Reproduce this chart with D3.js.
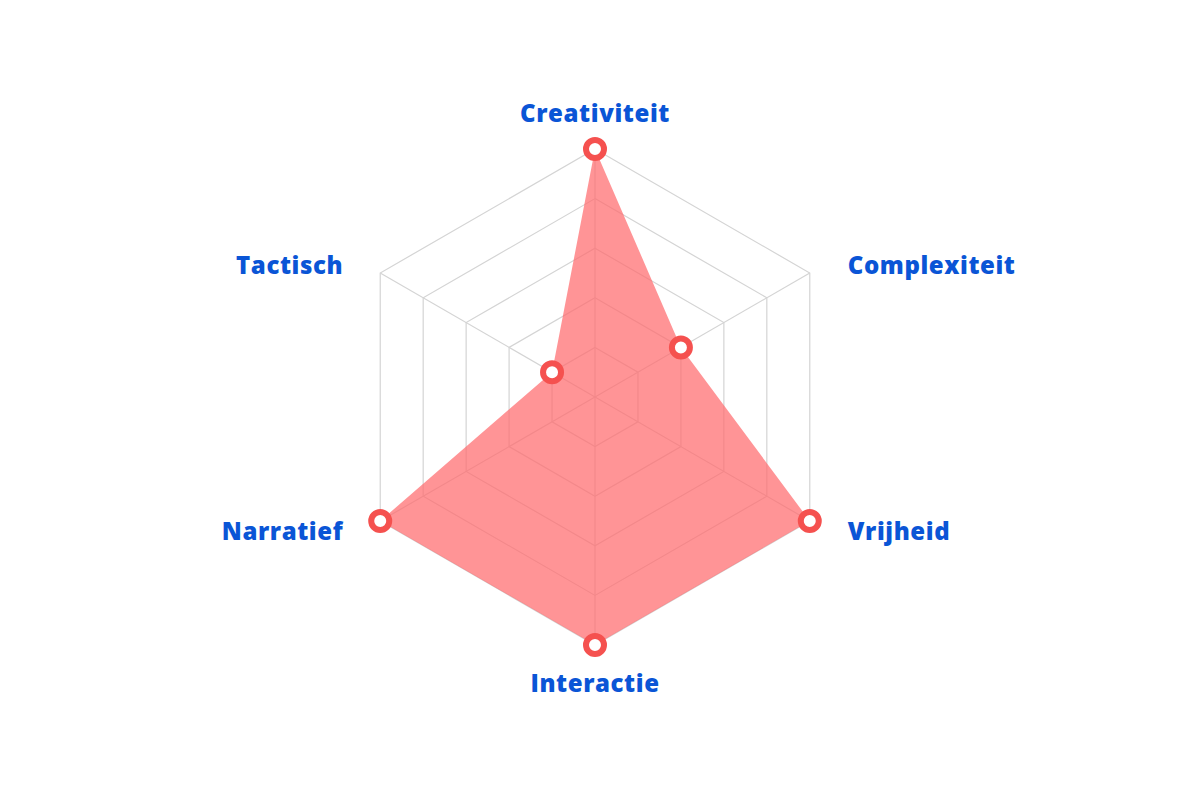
<!DOCTYPE html>
<html>
<head>
<meta charset="utf-8">
<script src="https://cdn.jsdelivr.net/npm/d3@7/dist/d3.min.js"></script>
<style>
  html, body { margin: 0; padding: 0; background: #ffffff; }
  svg { display: block; }
  .axis-label { font-family: "Open Sans", Lato, sans-serif; font-weight: 800; font-size: 24px; letter-spacing: 0.6px; fill: #0a55d6; }
</style>
</head>
<body>
<svg id="chart" width="1190" height="793"></svg>
<script>
// Axes, clockwise from the top
const axes = ["Creativiteit", "Complexiteit", "Vrijheid", "Interactie", "Narratief", "Tactisch"];
// Score per axis (0–5)
const scores = [5, 2, 5, 5, 5, 1];
// Grid rings
const levels = [1, 2, 3, 4, 5];
const maxScore = 5;

const svg = d3.select("#chart");
const cx = 595, cy = 397, R = 248;

const r = d3.scaleLinear().domain([0, maxScore]).range([0, R]);
const angle = d3.scalePoint().domain(axes.concat("_end")).range([0, 2 * Math.PI]);

const g = svg.append("g").attr("transform", `translate(${cx},${cy})`);

const pt = (a, v) => {
  const t = angle(a);
  return [Math.sin(t) * r(v), -Math.cos(t) * r(v)];
};

// Hexagonal grid rings
g.selectAll("path.ring")
  .data(levels)
  .join("path")
  .attr("class", "ring")
  .attr("d", lv => d3.line()(axes.map(a => pt(a, lv))) + "Z")
  .attr("fill", "none")
  .attr("stroke", "#d4d4d4")
  .attr("stroke-width", 1.2);

// Spokes
g.selectAll("line.spoke")
  .data(axes)
  .join("line")
  .attr("class", "spoke")
  .attr("x1", 0).attr("y1", 0)
  .attr("x2", a => pt(a, maxScore)[0])
  .attr("y2", a => pt(a, maxScore)[1])
  .attr("stroke", "#d4d4d4")
  .attr("stroke-width", 1.2);

// Score area
const areaPts = axes.map((a, i) => pt(a, scores[i]));
g.append("path")
  .attr("d", d3.line()(areaPts) + "Z")
  .attr("fill", "#ff6b6e")
  .attr("fill-opacity", 0.72)
  .attr("stroke", "none");

// Score markers
g.selectAll("circle.marker")
  .data(axes)
  .join("circle")
  .attr("class", "marker")
  .attr("cx", (a, i) => pt(a, scores[i])[0])
  .attr("cy", (a, i) => pt(a, scores[i])[1])
  .attr("r", 9)
  .attr("fill", "#ffffff")
  .attr("stroke", "#f5514f")
  .attr("stroke-width", 6);

// Axis labels
const labelPos = {
  "Creativiteit": { dx: 0, dy: -37, anchor: "middle" },
  "Complexiteit": { dx: 38, dy: -9, anchor: "start" },
  "Vrijheid": { dx: 38, dy: 9, anchor: "start" },
  "Interactie": { dx: 0, dy: 37, anchor: "middle" },
  "Narratief": { dx: -37, dy: 9, anchor: "end" },
  "Tactisch": { dx: -37, dy: -9, anchor: "end" }
};
g.selectAll("text.axis-label")
  .data(axes)
  .join("text")
  .attr("class", "axis-label")
  .attr("x", a => pt(a, maxScore)[0] + labelPos[a].dx)
  .attr("y", a => pt(a, maxScore)[1] + labelPos[a].dy)
  .attr("text-anchor", a => labelPos[a].anchor)
  .attr("dominant-baseline", "central")
  .text(a => a);
</script>
</body>
</html>
